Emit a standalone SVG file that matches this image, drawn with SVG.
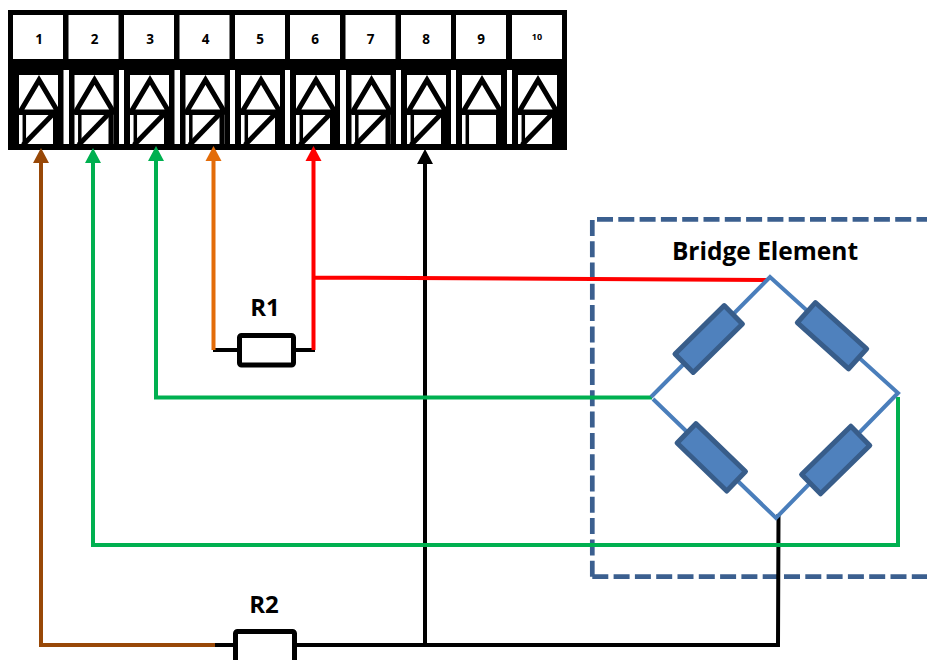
<svg xmlns="http://www.w3.org/2000/svg" width="927" height="660" viewBox="0 0 927 660">
<style>
text{font-family:"Open Sans","Liberation Sans",sans-serif;font-weight:700;fill:#000;text-anchor:middle}
.n{font-size:13.500px}
.lab{font-size:24px}
.w{fill:none;stroke-width:4;stroke-linejoin:miter}
.t{fill:none;stroke:#000}
.br{fill:#4f81bd;stroke:#385d8a;stroke-width:5;stroke-linejoin:round}
.bw{stroke:#4a7ebb;stroke-width:4;fill:none}
.res{fill:#fff;stroke:#000;stroke-width:5}
</style>
<defs>
<g id="term">
<rect x="0" y="0" width="50" height="44" fill="#fff"/>
<rect x="6" y="60" width="39" height="69" fill="#fff"/>
<path d="M7 97 L26 65 L45 97 Z" class="t" stroke-width="5" stroke-linejoin="miter"/>
<rect x="13" y="97" width="27" height="32" fill="#fff"/>
<path d="M11.300 97V131" class="t" stroke-width="3.500"/>
<path d="M42.500 97V131" class="t" stroke-width="5"/>
<path d="M6 97.500H45" stroke="#000" stroke-width="5"/>
</g>
<path id="diag" d="M41 98L10 130" stroke="#000" stroke-width="5" fill="none"/>
</defs>
<g id="terminal-block">
<rect x="8" y="10" width="559" height="140" fill="#000"/>
<rect x="63.500" y="70" width="5.500" height="74" fill="#fff"/>
<rect x="119" y="70" width="5" height="74" fill="#fff"/>
<rect x="174.500" y="70" width="5.500" height="74" fill="#fff"/>
<rect x="230" y="70" width="5" height="74" fill="#fff"/>
<rect x="285" y="70" width="5" height="74" fill="#fff"/>
<rect x="340" y="70" width="6" height="74" fill="#fff"/>
<rect x="396" y="70" width="5" height="74" fill="#fff"/>
<rect x="451" y="70" width="5" height="74" fill="#fff"/>
<rect x="507" y="70" width="5" height="74" fill="#fff"/>
</g>
<g id="t1" transform="translate(13,15)"><use href="#term"/><use href="#diag"/><text class="n" x="26" y="28.500">1</text></g>
<g id="t2" transform="translate(68.500,15)"><use href="#term"/><use href="#diag"/><text class="n" x="26" y="28.500">2</text></g>
<g id="t3" transform="translate(124,15)"><use href="#term"/><use href="#diag"/><text class="n" x="26" y="28.500">3</text></g>
<g id="t4" transform="translate(179.500,15)"><use href="#term"/><use href="#diag"/><text class="n" x="26" y="28.500">4</text></g>
<g id="t5" transform="translate(235,15)"><use href="#term"/><use href="#diag"/><text class="n" x="25" y="28.500">5</text></g>
<g id="t6" transform="translate(290,15)"><use href="#term"/><use href="#diag"/><text class="n" x="25" y="28.500">6</text></g>
<g id="t7" transform="translate(345.500,15)"><use href="#term"/><use href="#diag"/><text class="n" x="25" y="28.500">7</text></g>
<g id="t8" transform="translate(401,15)"><use href="#term"/><use href="#diag"/><text class="n" x="25" y="28.500">8</text></g>
<g id="t9" transform="translate(456,15)"><use href="#term"/><text class="n" x="25" y="28.500">9</text></g>
<g id="t10" transform="translate(512,15)"><use href="#term"/><use href="#diag"/><text x="25" y="25" style="font-size:9px">10</text></g>
<g id="bridge-frame">
<path d="M592.300 576.700V219.300H960" fill="none" stroke="#3b5f8f" stroke-width="4.700" stroke-dasharray="16 5.300"/>
<path d="M592.300 576.700H960" fill="none" stroke="#3b5f8f" stroke-width="4.700" stroke-dasharray="16 5.300"/>
</g>
<g id="connectors">
<path class="w" stroke="#000" d="M425 160V645M213 350H240M295 350H315M213 645H235M297 645H778L778.500 514"/>
<path class="w" stroke="#00b050" d="M156 160V397.500H652"/>
<path class="w" stroke="#00b050" d="M93 160V545H898V397"/>
<path class="w" stroke="#984807" d="M41 160V645H215"/>
<path class="w" stroke="#e36c09" d="M213.500 160V350"/>
<path class="w" stroke="#ff0000" d="M313.500 160V350M315 277.500L768 280"/>
<path d="M33 163L41 148L49 163Z" fill="#984807"/>
<path d="M85 163L93 148L101 163Z" fill="#00b050"/>
<path d="M148 161L156 146L164 161Z" fill="#00b050"/>
<path d="M205.500 161L213.500 146L221.500 161Z" fill="#e36c09"/>
<path d="M305.500 161L313.500 146L321.500 161Z" fill="#ff0000"/>
<path d="M417 164L425 149L433 164Z" fill="#000"/>
</g>
<g id="R1"><rect class="res" x="239.500" y="335.500" width="54" height="29.500" rx="2"/><text class="lab" x="265" y="316">R1</text></g>
<g id="R2"><rect class="res" x="235.500" y="631.500" width="59" height="40" rx="2"/><text class="lab" x="264" y="613">R2</text></g>
<g id="bridge">
<text x="765" y="260" style="font-size:24.500px">Bridge Element</text>
<path class="bw" d="M651 397L770 277L898 393L776 518L653 399"/>
<rect class="br" x="-34.500" y="-13" width="69" height="26" transform="translate(708.700,339) rotate(-44.500)"/>
<rect class="br" x="-34.500" y="-13.500" width="69" height="27" transform="translate(832,335.700) rotate(42)"/>
<rect class="br" x="-34.500" y="-13.500" width="69" height="27" transform="translate(711.300,457.300) rotate(44)"/>
<rect class="br" x="-34.500" y="-13.500" width="69" height="27" transform="translate(835.700,460) rotate(-44.500)"/>
</g>
</svg>
